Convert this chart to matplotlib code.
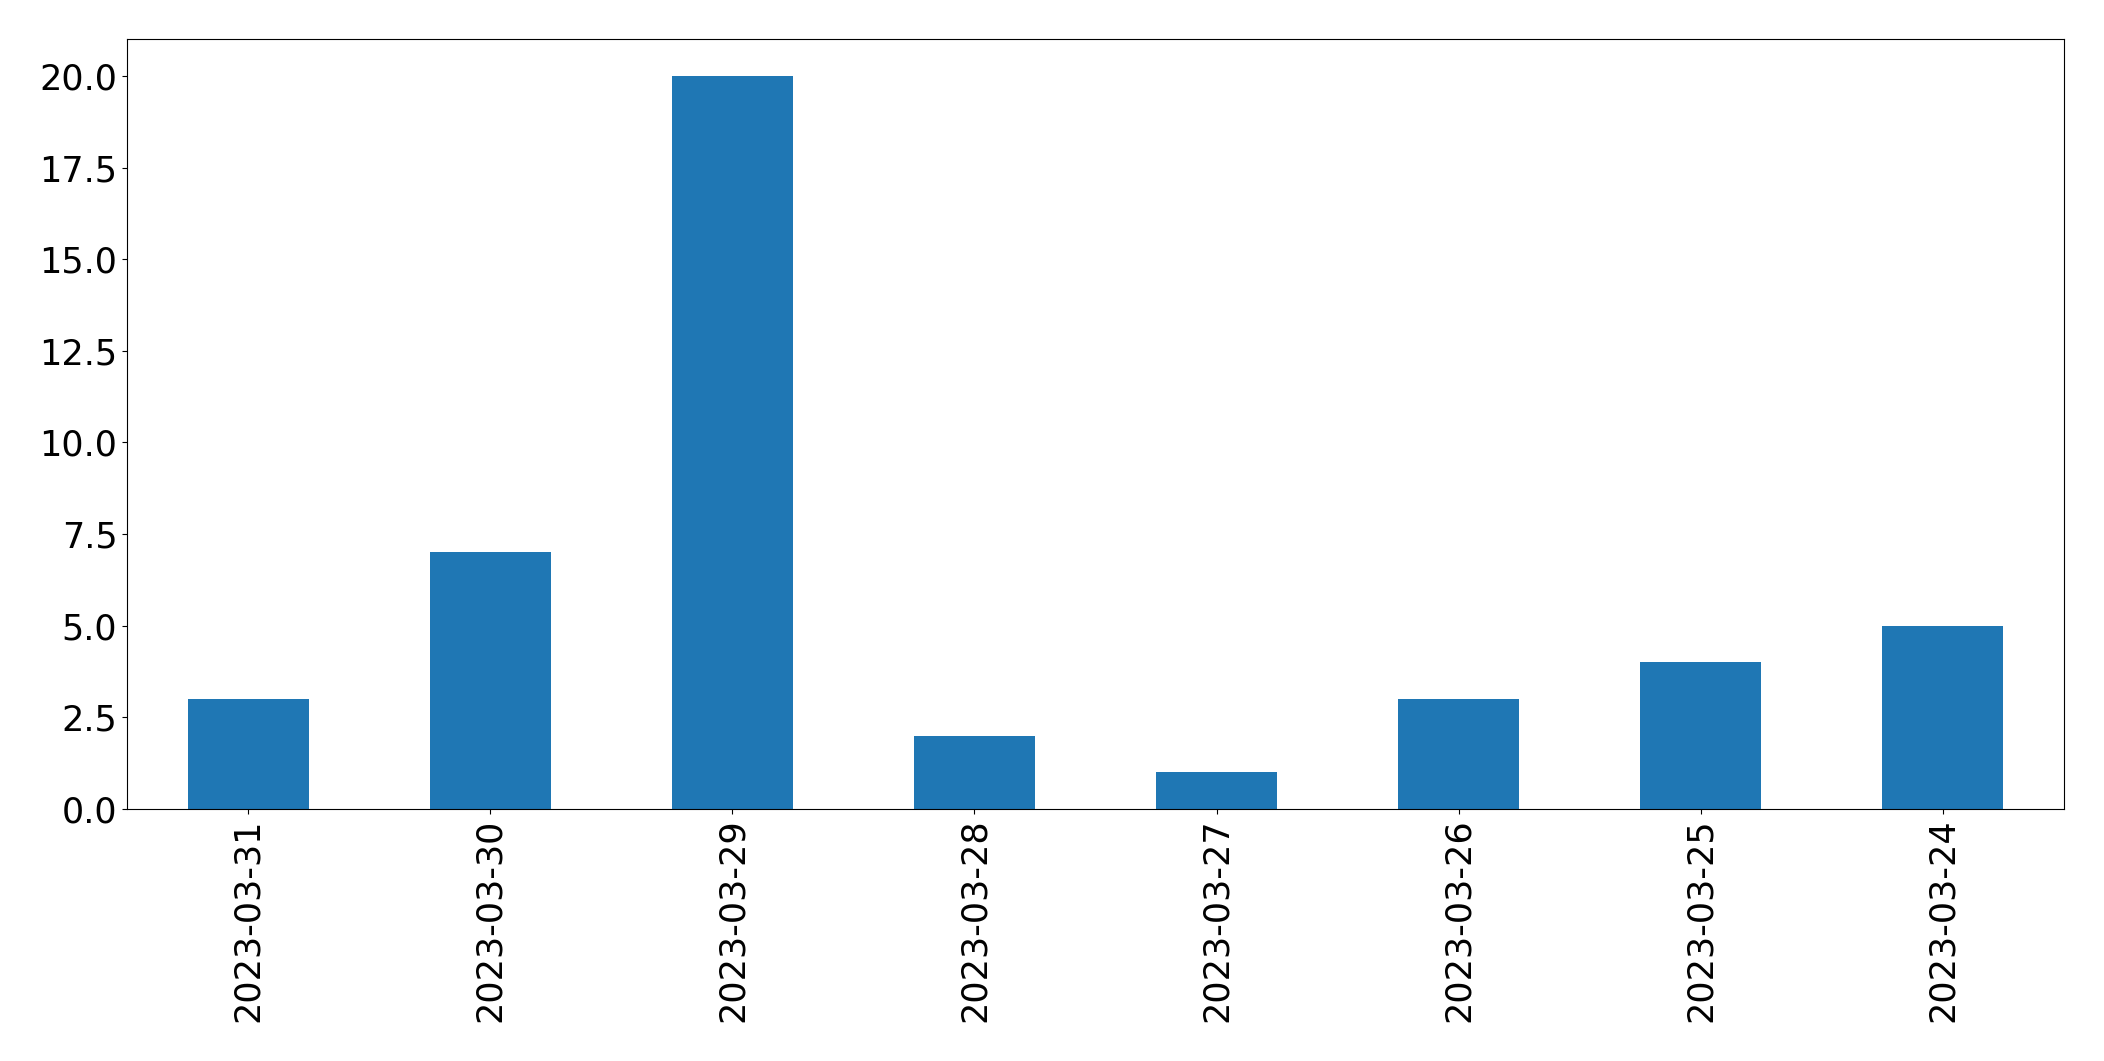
import matplotlib
matplotlib.use("Agg")
import matplotlib.pyplot as plt

# dates as they appear on the x axis, newest first
dates = ["2023-03-31", "2023-03-30", "2023-03-29", "2023-03-28",
         "2023-03-27", "2023-03-26", "2023-03-25", "2023-03-24"]
counts = [3, 7, 20, 2, 1, 3, 4, 5]

fig = plt.figure(figsize=(21.04, 10.61), dpi=100)
ax = fig.add_axes([0.0604, 0.2375, 0.9206, 0.7255])

x = range(len(dates))
ax.bar(x, counts, width=0.5, color="#1f77b4")
ax.set_xlim(-0.5, len(dates) - 0.5)
ax.set_ylim(0, 21)
ax.set_yticks([0, 2.5, 5, 7.5, 10, 12.5, 15, 17.5, 20])
ax.set_yticklabels([f"{v:.1f}" for v in [0, 2.5, 5, 7.5, 10, 12.5, 15, 17.5, 20]])
ax.set_xticks(list(x))
ax.set_xticklabels(dates, rotation=90)
ax.tick_params(labelsize=25.2)

plt.savefig("out.png", dpi=100)
